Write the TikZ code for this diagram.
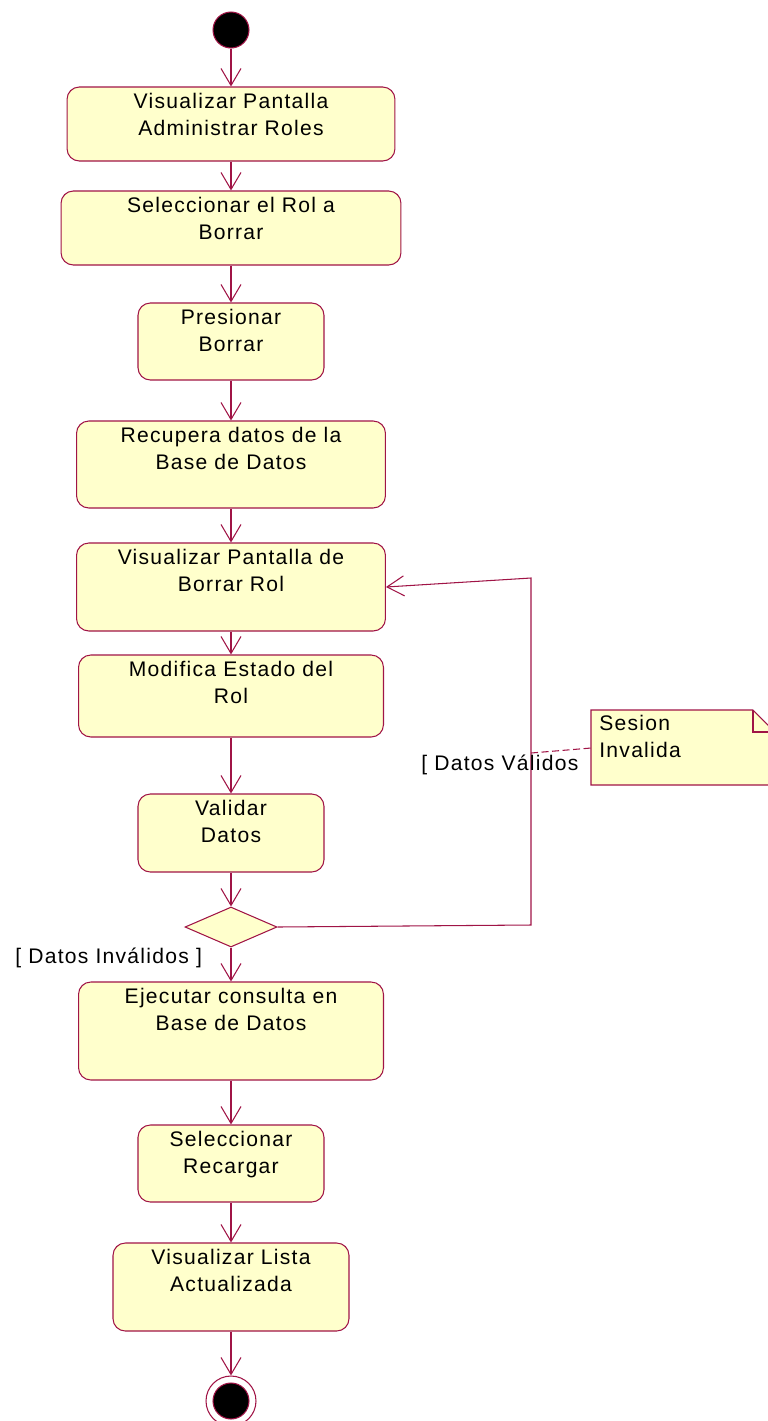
\documentclass[tikz,border=0pt]{standalone}
\usepackage{fontspec}
\setmainfont{Liberation Sans}[LetterSpace=6]
\usetikzlibrary{shapes.geometric,arrows.meta,positioning}
\definecolor{umlred}{RGB}{160,20,70}
\definecolor{umlfill}{RGB}{255,255,204}

\begin{document}
\begin{tikzpicture}[x=0.02cm, y=-0.02cm,
    act/.style={rectangle, draw=umlred, fill=umlfill, rounded corners=7pt, line width=0.6pt, inner sep=0pt},
    acttxt/.style={anchor=north, align=center, inner sep=0pt, yshift=-0.13cm, font=\fontsize{12}{15.3}\selectfont},
    lbl/.style={anchor=west, inner sep=0pt, font=\fontsize{12}{15.3}\selectfont},
    flow/.style={draw=umlred, line width=0.6pt, -{Straight Barb[length=0.34cm,width=0.4cm]}},
    startnode/.style={circle, draw=umlred, fill=black, line width=0.6pt, minimum size=0.72cm, inner sep=0pt}]
\useasboundingbox (0,0) rectangle (768,1421);
\clip (0,0) rectangle (768,1421);
% start
\node[startnode] (start) at (231,30) {};
% activities
\node[act, minimum width=6.56cm, minimum height=1.48cm] (b1) at (231,124) {};
\node[acttxt] (t1) at (b1.north) {Visualizar Pantalla\\Administrar Roles};
\node[act, minimum width=6.8cm, minimum height=1.48cm] (b2) at (231,228) {};
\node[acttxt] (t2) at (b2.north) {Seleccionar el Rol a\\Borrar};
\node[act, minimum width=3.72cm, minimum height=1.54cm] (b3) at (231,341.5) {};
\node[acttxt] (t3) at (b3.north) {Presionar\\Borrar};
\node[act, minimum width=6.18cm, minimum height=1.74cm] (b4) at (231,464.5) {};
\node[acttxt] (t4) at (b4.north) {Recupera datos de la\\Base de Datos};
\node[act, minimum width=6.18cm, minimum height=1.76cm] (b5) at (231,587) {};
\node[acttxt] (t5) at (b5.north) {Visualizar Pantalla de\\Borrar Rol};
\node[act, minimum width=6.1cm, minimum height=1.64cm] (b6) at (231,696) {};
\node[acttxt] (t6) at (b6.north) {Modifica Estado del\\Rol};
\node[act, minimum width=3.72cm, minimum height=1.56cm] (b7) at (231,833) {};
\node[acttxt] (t7) at (b7.north) {Validar\\Datos};
% decision
\node[diamond, draw=umlred, fill=umlfill, line width=0.6pt, inner sep=0pt,
      minimum width=1.84cm, minimum height=0.8cm] (dec) at (231,927) {};
\node[act, minimum width=6.1cm, minimum height=1.96cm] (b8) at (231,1031) {};
\node[acttxt] (t8) at (b8.north) {Ejecutar consulta en\\Base de Datos};
\node[act, minimum width=3.72cm, minimum height=1.54cm] (b9) at (231,1163.5) {};
\node[acttxt] (t9) at (b9.north) {Seleccionar\\Recargar};
\node[act, minimum width=4.72cm, minimum height=1.76cm] (b10) at (231,1287) {};
\node[acttxt] (t10) at (b10.north) {Visualizar Lista\\Actualizada};
% end
\node[circle, draw=umlred, fill=white, line width=0.6pt, minimum size=1cm, inner sep=0pt] (stop) at (231,1401) {};
\node[startnode] (stopin) at (stop.center) {};
% flows
\draw[flow] (start) -- (b1);
\draw[flow] (b1) -- (b2);
\draw[flow] (b2) -- (b3);
\draw[flow] (b3) -- (b4);
\draw[flow] (b4) -- (b5);
\draw[flow] (b5) -- (b6);
\draw[flow] (b6) -- (b7);
\draw[flow] (b7) -- (dec);
\draw[flow] (dec) -- (b8);
\draw[flow] (b8) -- (b9);
\draw[flow] (b9) -- (b10);
\draw[flow] (b10) -- (stop);
% loop back
\coordinate (lp1) at (531,925);
\coordinate (lp2) at (531,578);
\draw[flow] (dec.east) -- (lp1) -- (lp2) -- (b5.east);
% guards
\node[lbl] (gv) at (421,765) {[ Datos Válidos};
\node[lbl] (gi) at (15,958) {[ Datos Inválidos ]};
% note
\coordinate (dj) at (531,753);
\coordinate (notew) at (591,748);
\draw[umlred, line width=0.6pt, dash pattern=on 4pt off 2pt] (dj) -- (notew);
\draw[umlred, fill=umlfill, line width=0.6pt] (591,710) -- (753,710) -- (775,732) -- (775,785) -- (591,785) -- cycle;
\draw[umlred, line width=0.6pt] (753,710) -- (753,732) -- (775,732);
\node[acttxt, anchor=north west, align=left, yshift=0pt] (nt) at (599,708) {Sesion\\Invalida};
\end{tikzpicture}
\end{document}
